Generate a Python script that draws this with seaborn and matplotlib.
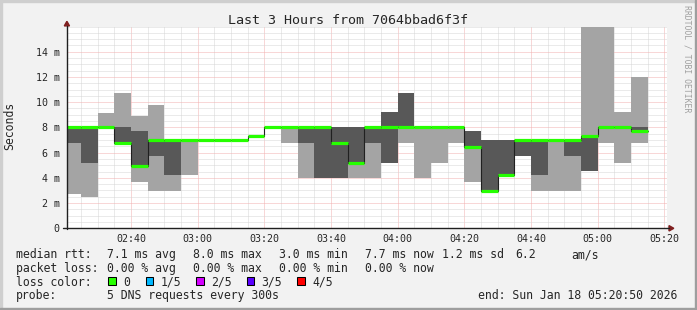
import matplotlib
matplotlib.use("Agg")
import numpy as np
import pandas as pd
import seaborn as sns
import matplotlib.pyplot as plt
from matplotlib.lines import Line2D
from matplotlib.patches import Polygon, Rectangle

# ---------------- data ----------------
title = "Last 3 Hours from 7064bbad6f3f"
window_start = "02:20:50"
window_end = "05:20:50"
step_minutes = 5

slot_start = ["02:20", "02:25", "02:30", "02:35", "02:40", "02:45", "02:50", "02:55",
              "03:00", "03:05", "03:10", "03:15", "03:20", "03:25", "03:30", "03:35",
              "03:40", "03:45", "03:50", "03:55", "04:00", "04:05", "04:10", "04:15",
              "04:20", "04:25", "04:30", "04:35", "04:40", "04:45", "04:50", "04:55",
              "05:00", "05:05", "05:10"]
# sorted ping times (ms): ping1 = fastest ... ping5 = slowest, ping3 = median
ping1 = [2.72, 2.51, 8.00, 6.80, 3.67, 2.96, 2.96, 4.23, 7.03, 7.03, 7.03, 7.34,
         8.00, 6.79, 3.99, 3.99, 3.99, 3.99, 3.99, 5.20, 6.79, 3.99, 5.20, 6.79,
         3.67, 2.96, 4.23, 5.73, 2.96, 2.96, 2.96, 4.52, 6.79, 5.20, 6.79]
ping2 = [6.79, 5.20, 8.00, 6.80, 4.94, 5.73, 4.23, 7.03, 7.03, 7.03, 7.03, 7.34,
         8.00, 8.00, 6.79, 3.99, 3.99, 5.20, 6.79, 5.20, 8.00, 8.00, 8.00, 8.00,
         6.47, 2.96, 4.23, 5.73, 4.23, 7.03, 5.73, 4.52, 8.00, 8.00, 7.72]
median = [8.00, 8.00, 8.00, 6.80, 4.94, 7.03, 7.03, 7.03, 7.03, 7.03, 7.03, 7.34,
          8.00, 8.00, 8.00, 8.00, 6.79, 5.20, 8.00, 8.00, 8.00, 8.00, 8.00, 8.00,
          6.47, 2.96, 4.23, 7.03, 7.03, 7.03, 7.03, 7.31, 8.00, 8.00, 7.72]
ping4 = [8.00, 8.00, 8.00, 8.00, 7.72, 7.03, 7.03, 7.03, 7.03, 7.03, 7.03, 7.34,
         8.00, 8.00, 8.00, 8.00, 8.00, 8.00, 8.00, 9.22, 10.73, 8.00, 8.00, 8.00,
         7.72, 7.00, 7.00, 7.03, 7.03, 7.03, 7.03, 7.31, 8.00, 8.00, 8.00]
ping5 = [8.00, 8.00, 9.14, 10.73, 8.90, 9.78, 7.03, 7.03, 7.03, 7.03, 7.03, 7.34,
         8.00, 8.00, 8.00, 8.00, 8.00, 8.00, 8.00, 9.22, 10.73, 8.00, 8.00, 8.00,
         7.72, 7.00, 7.00, 7.03, 7.03, 7.03, 7.03, 16.00, 16.00, 9.22, 12.00]

x_tick_labels = ["02:40", "03:00", "03:20", "03:40", "04:00", "04:20", "04:40", "05:00", "05:20"]
y_tick_values = [0, 2, 4, 6, 8, 10, 12, 14]
y_tick_labels = ["0", "2 m", "4 m", "6 m", "8 m", "10 m", "12 m", "14 m"]
y_max = 16.0
y_label = "Seconds"

row_rtt = ["median rtt:", "7.1 ms avg", "8.0 ms max", "3.0 ms min", "7.7 ms now",
           "1.2 ms sd", "6.2", "am/s"]
row_loss = ["packet loss:", "0.00 % avg", "0.00 % max", "0.00 % min", "0.00 % now"]
loss_title = "loss color:"
loss_labels = ["0", "1/5", "2/5", "3/5", "4/5"]
loss_colors = ["#26ff00", "#00b8ff", "#d400ff", "#5a00ff", "#ff0000"]
probe_row = ["probe:", "5 DNS requests every 300s"]
end_text = "end: Sun Jan 18 05:20:50 2026"
watermark = "RRDTOOL / TOBI OETIKER"

# ---------------- helpers ----------------
def to_min(s):
    parts = [int(p) for p in s.split(":")]
    v = parts[0] * 60 + parts[1]
    if len(parts) > 2:
        v += parts[2] / 60.0
    return v

W, H = 697, 310
def fx(px):
    return px / W
def fy(py):
    return 1 - py / H

starts = np.array([to_min(s) for s in slot_start], dtype=float)
edges = np.append(starts, starts[-1] + step_minutes)
def ext(a):
    a = np.asarray(a, dtype=float)
    return np.append(a, a[-1])

# ---------------- style ----------------
sns.set_style("white")
mono = "DejaVu Sans Mono"
plt.rcParams["font.family"] = [mono, "DejaVu Sans"]

fig = plt.figure(figsize=(W / 100, H / 100), dpi=100, facecolor="#f2f2f2")
ax = fig.add_axes([fx(67), fy(228.3), 600 / W, (228.3 - 26.5) / H])
ax.set_facecolor("white")

# smoke
ax.fill_between(edges, ext(ping1), ext(ping5), step="post", color="#a4a4a4",
                linewidth=0, antialiased=False, zorder=2)
ax.fill_between(edges, ext(ping2), ext(ping4), step="post", color="#585858",
                linewidth=0, antialiased=False, zorder=3)

# median
med_df = pd.DataFrame({"t": edges, "median": ext(median)})
sns.lineplot(data=med_df, x="t", y="median", drawstyle="steps-post", color="#202020",
             linewidth=0.8, ax=ax, zorder=4)
ax.hlines(median, starts, edges[1:], color=loss_colors[0], linewidth=2.3, zorder=5)

x0, x1 = to_min(window_start), to_min(window_end)
ax.set_xlim(x0, x1)
ax.set_ylim(0, y_max)

major_x = [to_min(s) for s in x_tick_labels]
minor_x = np.arange(to_min("02:25"), x1, step_minutes)
ax.set_xticks(major_x)
ax.set_xticklabels(x_tick_labels)
ax.set_xticks(minor_x, minor=True)
ax.set_yticks(y_tick_values)
ax.set_yticklabels(y_tick_labels)
ax.set_yticks(np.arange(0.5, y_max + 0.01, 0.5), minor=True)

ax.grid(which="minor", color="#d6d6d6", linestyle=(0, (1, 1)), linewidth=0.72)
ax.grid(which="major", color="#f2b0b0", linestyle=(0, (1, 1)), linewidth=0.72)
ax.set_axisbelow(True)

for sp in ax.spines.values():
    sp.set_visible(False)

ax.tick_params(which="both", direction="out", color="#1f1f1f", width=0.72,
               labelsize=7.2)
ax.tick_params(which="major", length=2.2)
ax.tick_params(which="minor", length=1.4)
ax.tick_params(axis="y", which="major", pad=3.0)
ax.tick_params(axis="x", which="major", pad=1.6)
for lab in ax.get_xticklabels() + ax.get_yticklabels():
    lab.set_family(mono)
ax.set_xlabel("")
ax.set_ylabel("")

# axis lines and arrows
fig.add_artist(Line2D([fx(66.8), fx(66.8)], [fy(228.8), fy(25.7)], color="#1f1f1f", lw=1.0))
fig.add_artist(Line2D([fx(63), fx(669.3)], [fy(228.3), fy(228.3)], color="#1f1f1f", lw=1.0))
fig.add_artist(Polygon([[fx(64.3), fy(25.9)], [fx(69.5), fy(25.9)], [fx(66.9), fy(21.3)]],
                       closed=True, color="#801f1f", transform=fig.transFigure))
fig.add_artist(Polygon([[fx(669.0), fy(225.6)], [fx(669.0), fy(231.0)], [fx(673.8), fy(228.3)]],
                       closed=True, color="#801f1f", transform=fig.transFigure))

# frame shading
fig.add_artist(Rectangle((0, fy(2)), 1, 2 / H, color="#cfcfcf", transform=fig.transFigure))
fig.add_artist(Rectangle((0, 0), 2 / W, 1, color="#cfcfcf", transform=fig.transFigure))
fig.add_artist(Rectangle((0, 0), 1, 2 / H, color="#9e9e9e", transform=fig.transFigure))
fig.add_artist(Rectangle((1 - 2 / W, 0), 2 / W, 1, color="#9e9e9e", transform=fig.transFigure))

# title, y label, watermark
fig.text(fx(348), fy(24), title, ha="center", va="baseline", fontsize=9.6, family=mono)
fig.text(fx(10), fy(126), y_label, ha="center", va="center", rotation=90,
         fontsize=8.3, family=mono)
fig.text(fx(687.5), fy(5), watermark, ha="center", va="top", rotation=270,
         fontsize=5.9, family=mono, color="#a0a0a0")

# legend text
lx_rtt = [16, 107.3, 193.3, 279.3, 365, 441.7, 515, 571.7]
for s, x in zip(row_rtt, lx_rtt):
    fig.text(fx(x), fy(258.4), s, ha="left", va="baseline", fontsize=8.3, family=mono)
lx_loss = [16, 107.3, 193.3, 279.3, 365]
for s, x in zip(row_loss, lx_loss):
    fig.text(fx(x), fy(271.9), s, ha="left", va="baseline", fontsize=8.3, family=mono)
fig.text(fx(16), fy(285.9), loss_title, ha="left", va="baseline", fontsize=8.3, family=mono)
box_x = [108.3, 145.7, 196.0, 246.7, 297.3]
lab_x = [123.3, 160.3, 211.0, 261.7, 312.7]
for lab, col, bx, tx in zip(loss_labels, loss_colors, box_x, lab_x):
    fig.add_artist(Rectangle((fx(bx), fy(284.7)), 7.6 / W, 7.6 / H, facecolor=col,
                             edgecolor="black", linewidth=0.75, transform=fig.transFigure))
    fig.text(fx(tx), fy(285.9), lab, ha="left", va="baseline", fontsize=8.3, family=mono)
for s, x in zip(probe_row, [16, 107.3]):
    fig.text(fx(x), fy(299.4), s, ha="left", va="baseline", fontsize=8.3, family=mono)
fig.text(fx(478.3), fy(299.4), end_text, ha="left", va="baseline", fontsize=8.3, family=mono)

fig.savefig("out.png", dpi=100, facecolor=fig.get_facecolor())
